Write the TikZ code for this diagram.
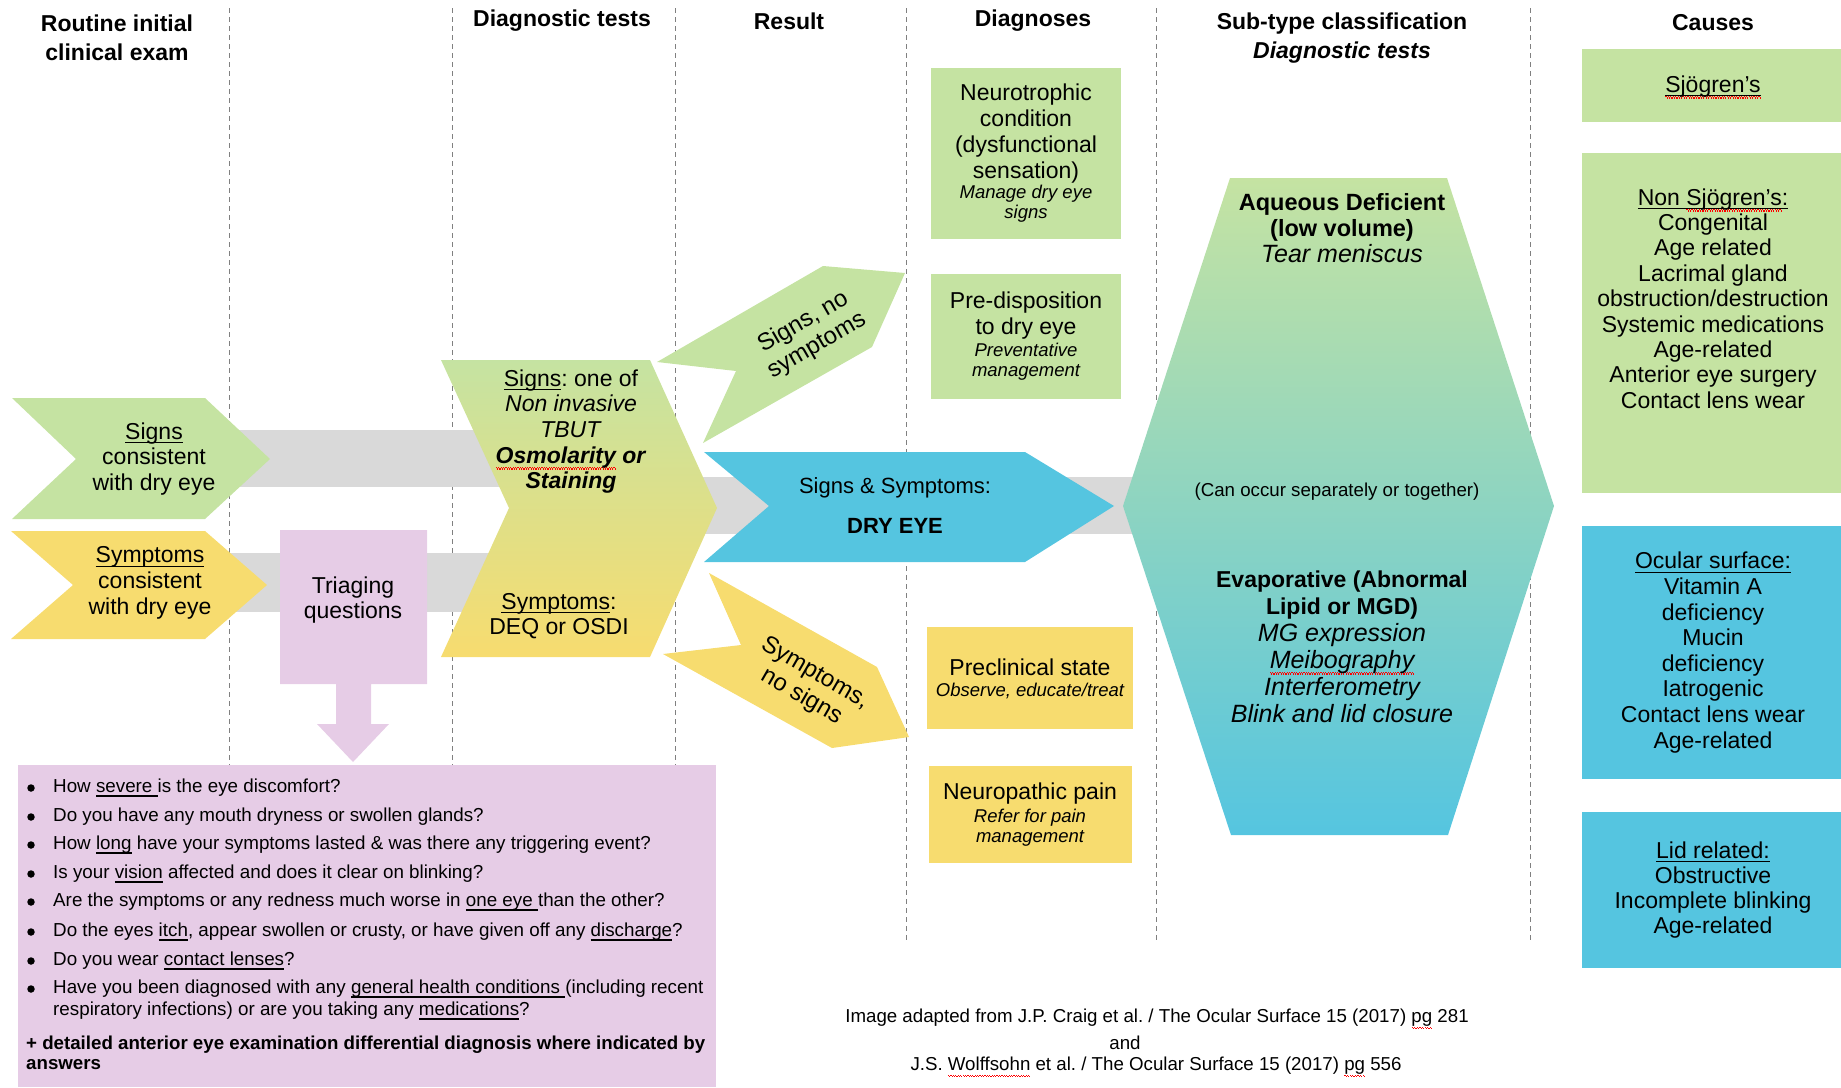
\documentclass[tikz,border=0pt]{standalone}
\usepackage{fontspec}
\setmainfont{Liberation Sans}
\usepackage{xcolor}
\usepackage{tikz}
\definecolor{signColor}{HTML}{C5E3A2}
\definecolor{symColor}{HTML}{F7DC6F}
\definecolor{dryColor}{HTML}{55C5E0}
\definecolor{triageColor}{HTML}{E6CCE6}
\definecolor{barColor}{HTML}{D9D9D9}
\definecolor{sepColor}{HTML}{808080}
\frenchspacing
% underline and spell-check wave
\newsavebox\wordBox
\newcommand\waveMark{\hbox{\vrule height -4pt depth 5.2pt width 1.2pt\vrule height -5.2pt depth 6.4pt width 1.2pt}}
\newcommand\waveLine{\rlap{\textcolor{red}{\hbox to \wd\wordBox{\xleaders\waveMark\hfill}}}}
\newcommand\ulLine{\rlap{\vrule height -2.7pt depth 4pt width \wd\wordBox}}
\newcommand\ul[1]{\sbox\wordBox{#1}\ulLine\usebox\wordBox}
\newcommand\spellerr[1]{\sbox\wordBox{#1}\waveLine\usebox\wordBox}
\newcommand\ulspell[1]{\sbox\wordBox{#1}\waveLine\ulLine\usebox\wordBox}

\begin{document}
\begin{tikzpicture}[x=1pt,y=-1pt,
  headText/.style={align=center, inner sep=0pt, font=\bfseries\fontsize{23}{29}\selectfont},
  mainText/.style={align=center, inner sep=0pt, font=\fontsize{23}{25.7}\selectfont},
  noteText/.style={align=center, inner sep=0pt, font=\itshape\fontsize{18.5}{20.5}\selectfont},
  turnText/.style={align=center, inner sep=0pt, font=\fontsize{24}{27}\selectfont},
  smallText/.style={align=center, inner sep=0pt, font=\fontsize{18.7}{21}\selectfont},
  bulletText/.style={anchor=west, inner sep=0pt, text height=13.5pt, text depth=4pt, font=\fontsize{18.8}{22}\selectfont},
  bulletDot/.style={circle, inner sep=0pt, minimum size=7.5pt, fill=black}]
\useasboundingbox (0,0) rectangle (1841,1087);

% column separators
\begin{scope}[sepColor, line width=1pt, dash pattern=on 5pt off 4pt]
\draw (229,8) -- (229,765);
\draw (452,8) -- (452,765);
\draw (675,8) -- (675,765);
\draw (906,8) -- (906,940);
\draw (1156,8) -- (1156,940);
\draw (1530,8) -- (1530,940);
\end{scope}

% bar layer
\begin{scope}
\fill[barColor] (215,430) rectangle (520,487);
\fill[barColor] (215,553) rectangle (520,612);
\fill[barColor] (700,477) rectangle (1140,534);
\end{scope}

% arrow layer
\begin{scope}
\fill[signColor] (12,398) -- (205,398) -- (270,459) -- (205,519) -- (12,519) -- (76,459) -- cycle;
\fill[symColor] (11,531) -- (205,531) -- (267,585) -- (205,639) -- (11,639) -- (73,585) -- cycle;
\fill[triageColor] (280,530) -- (427,530) -- (427,684) -- (371,684) -- (371,724) -- (389,724)
  -- (353,762) -- (317,724) -- (336,724) -- (336,684) -- (280,684) -- cycle;
\fill[triageColor] (18,765) rectangle (716,1087);
\shade[top color=signColor, bottom color=symColor] (441,360) -- (650,360) -- (717,508)
  -- (650,657) -- (441,657) -- (509,508) -- cycle;
\fill[signColor] (657,362) -- (823,266) -- (905,273) -- (872,347) -- (703,443) -- (736,371) -- cycle;
\fill[symColor] (709,573) -- (877,667) -- (909,737) -- (832,748) -- (663,654) -- (741,645) -- cycle;
\fill[dryColor] (704,452) -- (1025,452) -- (1114,506) -- (1025,562) -- (704,562) -- (769,506) -- cycle;
\shade[top color=signColor, bottom color=dryColor] (1230,178) -- (1447,178) -- (1554,506)
  -- (1448,835) -- (1231,835) -- (1123,506) -- cycle;
\end{scope}

% box layer
\begin{scope}
\fill[signColor] (931,68) rectangle (1121,239);
\fill[signColor] (931,274) rectangle (1121,399);
\fill[symColor] (927,627) rectangle (1133,729);
\fill[symColor] (929,766) rectangle (1132,863);
\fill[signColor] (1582,49) rectangle (1841,122);
\fill[signColor] (1582,153) rectangle (1841,493);
\fill[dryColor] (1582,526) rectangle (1841,779);
\fill[dryColor] (1582,812) rectangle (1841,968);
\end{scope}

% heading layer
\node[headText] (headExam) at (117,37.5) {Routine initial\\clinical exam};
\node[headText] (headTests) at (562,21) {Diagnostic tests};
\node[headText] (headResult) at (789,21) {Result};
\node[headText] (headDiag) at (1033,21) {Diagnoses};
\node[headText] (headSub) at (1342,38) {Sub-type classification\\\textit{Diagnostic tests}};
\node[headText] (headCause) at (1713,23) {Causes};

% label layer
\node[mainText] (signsExam) at (154,459) {\ul{Signs}\\consistent\\with dry eye};
\node[mainText] (symExam) at (150,583) {\ul{Symptoms}\\consistent\\with dry eye};
\node[mainText, font=\fontsize{23}{25}\selectfont] (triage) at (353,600) {Triaging\\questions};
\node[mainText] (signsTest) at (571,431.5) {\ul{Signs}: one of\\\textit{Non invasive}\\\textit{TBUT}\\
  \textbf{\textit{\spellerr{Osmolarity} or}}\\\textbf{\textit{Staining}}};
\node[mainText] (symTest) at (559,616) {\ul{Symptoms}:\\DEQ or OSDI};
\node[turnText, rotate=30] (signsOnly) at (810,334) {Signs, no\\symptoms};
\node[turnText, rotate=-30] (symOnly) at (808,685) {Symptoms,\\no signs};
\node[mainText, font=\fontsize{22}{40}\selectfont] (dryEye) at (895,506) {Signs \& Symptoms:\\\textbf{DRY EYE}};

% sub-type layer
\node[mainText, font=\itshape\fontsize{25}{26}\selectfont] (aqueous) at (1342,228)
  {{\upshape\bfseries\fontsize{23.5}{26}\selectfont Aqueous Deficient}\\
   {\upshape\bfseries\fontsize{23.5}{26}\selectfont (low volume)}\\Tear meniscus};
\node[smallText] (either) at (1337,492) {(Can occur separately or together)};
\node[mainText, font=\itshape\fontsize{25}{27}\selectfont] (evap) at (1342,646.5)
  {{\upshape\bfseries\fontsize{23}{27}\selectfont Evaporative (Abnormal}\\
   {\upshape\bfseries\fontsize{23}{27}\selectfont Lipid or MGD)}\\MG expression\\
   \spellerr{Meibography}\\Interferometry\\Blink and lid closure};

% diagnoses layer
\node[mainText] (neuroDiag) at (1026,133.5) {Neurotrophic\\condition\\(dysfunctional\\sensation)};
\node[noteText] (neuroNote) at (1026,203.5) {Manage dry eye\\signs};
\node[mainText] (preDiag) at (1026,315.5) {Pre-disposition\\to dry eye};
\node[noteText] (preNote) at (1026,361.5) {Preventative\\management};
\node[mainText] (preclin) at (1030,667) {Preclinical state};
\node[noteText] (preclinNote) at (1030,691) {Observe, educate/treat};
\node[mainText] (neuroPain) at (1030,794) {Neuropathic pain};
\node[noteText] (painNote) at (1030,827.5) {Refer for pain\\management};

% causes layer
\node[mainText] (sjogren) at (1713,87) {\ulspell{Sjögren’s}};
\node[mainText, font=\fontsize{23}{25.4}\selectfont] (nonSjogren) at (1713,298.5)
  {\ul{Non }\ulspell{Sjögren’s}\ul{:}\\Congenital\\Age related\\Lacrimal gland\\
   obstruction/destruction\\Systemic medications\\Age-related\\Anterior eye surgery\\Contact lens wear};
\node[mainText, font=\fontsize{23}{25.6}\selectfont] (ocular) at (1713,652.5)
  {\ul{Ocular surface:}\\Vitamin A\\deficiency\\Mucin\\deficiency\\Iatrogenic\\Contact lens wear\\Age-related};
\node[mainText, font=\fontsize{23}{25.3}\selectfont] (lid) at (1713,890)
  {\ul{Lid related:}\\Obstructive\\Incomplete blinking\\Age-related};

% question layer
\node[bulletDot] (dotA) at (31,788) {};
\node[bulletDot] (dotB) at (31,817) {};
\node[bulletDot] (dotC) at (31,845) {};
\node[bulletDot] (dotD) at (31,874) {};
\node[bulletDot] (dotE) at (31,902) {};
\node[bulletDot] (dotF) at (31,932) {};
\node[bulletDot] (dotG) at (31,961) {};
\node[bulletDot] (dotH) at (31,989) {};
\node[bulletText] (askA) at (53,788) {How \ul{severe }is the eye discomfort?};
\node[bulletText] (askB) at (53,817) {Do you have any mouth dryness or swollen glands?};
\node[bulletText] (askC) at (53,845) {How \ul{long} have your symptoms lasted \& was there any triggering event?};
\node[bulletText] (askD) at (53,874) {Is your \ul{vision} affected and does it clear on blinking?};
\node[bulletText] (askE) at (53,902) {Are the symptoms or any redness much worse in \ul{one eye }than the other?};
\node[bulletText] (askF) at (53,932) {Do the eyes \ul{itch}, appear swollen or crusty, or have given off any \ul{discharge}?};
\node[bulletText] (askG) at (53,961) {Do you wear \ul{contact lenses}?};
\node[bulletText] (askH) at (53,989) {Have you been diagnosed with any \ul{general health conditions }(including recent};
\node[bulletText] (askHb) at (53,1011) {respiratory infections) or are you taking any \ul{medications}?};
\node[bulletText, font=\bfseries\fontsize{18.7}{21}\selectfont] (extraA) at (26,1045)
  {+ detailed anterior eye examination differential diagnosis where indicated by};
\node[bulletText, font=\bfseries\fontsize{18.7}{21}\selectfont] (extraB) at (26,1065) {answers};

% source layer
\node[smallText] (citeA) at (1157,1019) {Image adapted from J.P. Craig et al. / The Ocular Surface 15 (2017) \spellerr{pg} 281};
\node[smallText] (citeAnd) at (1125,1043) {and};
\node[smallText] (citeB) at (1156,1067) {J.S. \spellerr{Wolffsohn} et al. / The Ocular Surface 15 (2017) \spellerr{pg} 556};
\end{tikzpicture}
\end{document}
